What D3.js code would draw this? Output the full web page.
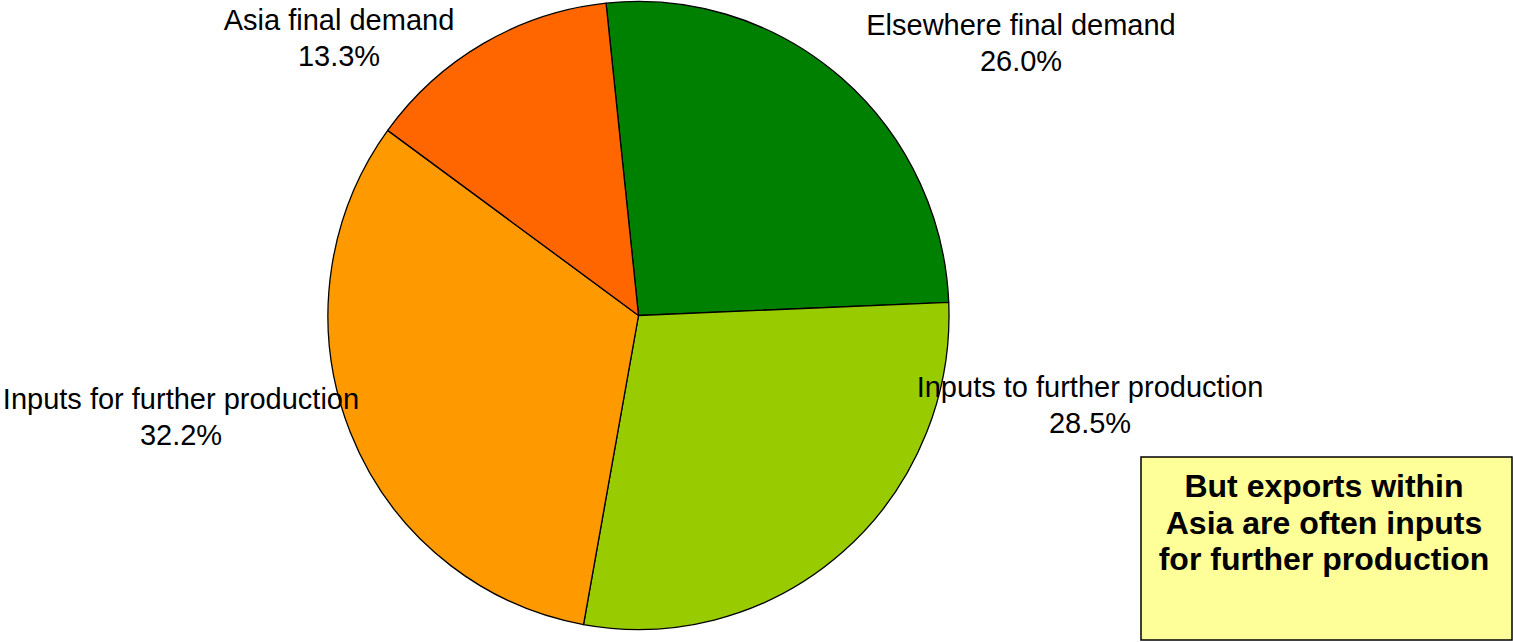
<!DOCTYPE html>
<html>
<head>
<meta charset="utf-8">
<script src="https://cdn.jsdelivr.net/npm/d3@7"></script>
<style>
  html, body { margin: 0; padding: 0; background: #fff; }
  svg { display: block; }
</style>
</head>
<body>
<svg id="chart" width="1513" height="642"></svg>
<script>
// ---- data ----
const categories = ["Elsewhere final demand", "Inputs to further production", "Inputs for further production", "Asia final demand"];
const shares = [26.0, 28.5, 32.2, 13.3];
const sliceColors = ["#008000", "#99CC00", "#FF9900", "#FF6600"];
const noteLines = ["But exports within", "Asia are often inputs", "for further production"];

// ---- layout (not data) ----
const W = 1513, H = 642;
const cx = 638.5, cy = 315.5, rx = 310.5, ry = 314;
const startDeg = -6;
const labelAnchors = [[1021, 35], [1090, 397], [181, 409], [339, 30]];
const labelFont = 29, lineGap = 36;

const svg = d3.select("#chart");
svg.append("rect").attr("width", W).attr("height", H).attr("fill", "#fff");

const data = categories.map((c, i) => ({ name: c, value: shares[i], color: sliceColors[i], pos: labelAnchors[i] }));

const pie = d3.pie()
  .sort(null)
  .value(d => d.value)
  .startAngle(startDeg * Math.PI / 180)
  .endAngle((startDeg + 360) * Math.PI / 180);

const arc = d3.arc().innerRadius(0).outerRadius(rx);

const g = svg.append("g")
  .attr("transform", `translate(${cx},${cy}) scale(1,${ry / rx})`);

g.selectAll("path")
  .data(pie(data))
  .join("path")
  .attr("d", arc)
  .attr("fill", d => d.data.color)
  .attr("stroke", "#000")
  .attr("stroke-width", 1.3)
  .attr("stroke-linejoin", "round");

const fmt = d3.format(".1f");
const labels = svg.append("g")
  .attr("font-family", "'Liberation Sans', Arial, sans-serif")
  .attr("font-size", labelFont)
  .attr("fill", "#000")
  .attr("text-anchor", "middle");

data.forEach(d => {
  const t = labels.append("text").attr("x", d.pos[0]).attr("y", d.pos[1]);
  t.append("tspan").attr("x", d.pos[0]).attr("y", d.pos[1]).text(d.name);
  t.append("tspan").attr("x", d.pos[0]).attr("y", d.pos[1] + lineGap).text(fmt(d.value) + "%");
});

// ---- note box ----
const box = svg.append("g");
box.append("rect")
  .attr("x", 1141).attr("y", 457)
  .attr("width", 371).attr("height", 183)
  .attr("fill", "#FFFF99")
  .attr("stroke", "#000")
  .attr("stroke-width", 1.5);

box.append("text")
  .attr("font-family", "'Liberation Sans', Arial, sans-serif")
  .attr("font-size", 32)
  .attr("font-weight", "bold")
  .attr("text-anchor", "middle")
  .attr("fill", "#000")
  .selectAll("tspan")
  .data(noteLines)
  .join("tspan")
  .attr("x", 1324)
  .attr("y", (d, i) => 497 + i * 36.5)
  .text(d => d);
</script>
</body>
</html>
